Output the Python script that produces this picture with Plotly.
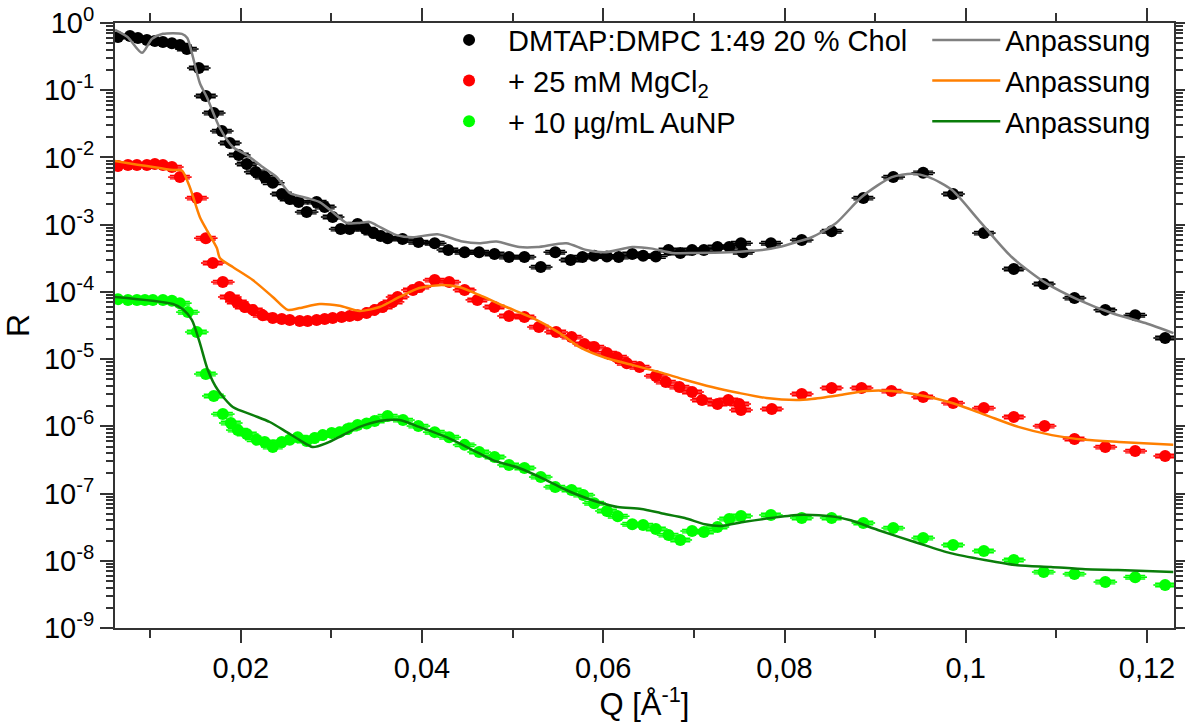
import plotly.graph_objects as go

# ---------------- data ----------------
q_black = [0.00645, 0.00777, 0.00865, 0.00964, 0.01052, 0.01141, 0.01240, 0.01328, 0.01405, 0.01537,
           0.01614, 0.01702, 0.01791, 0.01879, 0.01978, 0.02066, 0.02165, 0.02264, 0.02353, 0.02452,
           0.02540, 0.02639, 0.02727, 0.02837, 0.02926, 0.03014, 0.03102, 0.03201, 0.03289, 0.03377,
           0.03465, 0.03543, 0.03620, 0.03785, 0.0396, 0.0414, 0.0429, 0.0447, 0.0463, 0.0480,
           0.0496, 0.0513, 0.0531, 0.0547, 0.0564, 0.0577, 0.0590, 0.0604, 0.0617, 0.0632,
           0.0644, 0.0658, 0.0672, 0.0685, 0.0698, 0.0711, 0.0726, 0.0739, 0.0752, 0.0754,
           0.0785, 0.0819, 0.0852, 0.0887, 0.0920, 0.0953, 0.0986, 0.1020, 0.1053, 0.1086,
           0.1120, 0.1154, 0.1187, 0.1220]
r_black = [0.62, 0.64, 0.60, 0.56, 0.54, 0.52, 0.50, 0.47, 0.41, 0.214,
           0.082, 0.0458, 0.0247, 0.0164, 0.0109, 0.0080, 0.0061, 0.0051, 0.0042, 0.00286,
           0.00241, 0.00217, 0.00154, 0.00217, 0.00183, 0.0013, 0.00086, 0.00086, 0.00102, 0.00086,
           0.00075, 0.00068, 0.00063, 0.00061, 0.00055, 0.00053, 0.00042, 0.00039, 0.00039, 0.000366,
           0.00033, 0.00033, 0.000234, 0.00039, 0.000298, 0.00033, 0.000345, 0.000337, 0.00033, 0.000366,
           0.000345, 0.000337, 0.00042, 0.00038, 0.00042, 0.00042, 0.000465, 0.000465, 0.00053, 0.00039,
           0.00053, 0.00059, 0.00080, 0.00249, 0.0051, 0.0059, 0.00286, 0.00075, 0.000219, 0.000131,
           0.000081, 0.000054, 0.000045, 0.0000206]

q_fit_black = [0.00612, 0.0075, 0.00909, 0.0102, 0.0114, 0.0135, 0.0141, 0.0146, 0.01548, 0.01625,
               0.01769, 0.01912, 0.02066, 0.02242, 0.02397, 0.02540, 0.02727, 0.02871, 0.03014, 0.03168,
               0.03311, 0.03421, 0.0350, 0.03719, 0.03895, 0.04171, 0.04446, 0.04634, 0.04821, 0.05074,
               0.05273, 0.05592, 0.05813, 0.06033, 0.06320, 0.06540, 0.06760, 0.07025, 0.07388, 0.07752,
               0.07939, 0.0813, 0.0830, 0.08567, 0.08854, 0.09185, 0.09405, 0.09592, 0.09846, 0.10143,
               0.10507, 0.10882, 0.11245, 0.11609, 0.11983, 0.12292]
r_fit_black = [0.79, 0.62, 0.36, 0.58, 0.69, 0.69, 0.60, 0.36, 0.128, 0.079,
               0.0274, 0.0143, 0.0109, 0.0072, 0.0051, 0.00296, 0.0025, 0.00217, 0.00154, 0.00106,
               0.00106, 0.00110, 0.00098, 0.00070, 0.00065, 0.00072, 0.00056, 0.00053, 0.00056, 0.000465,
               0.000465, 0.00053, 0.00042, 0.00039, 0.000465, 0.00044, 0.00038, 0.00038, 0.00039, 0.00042,
               0.000465, 0.00055, 0.00065, 0.00105, 0.0026, 0.0051, 0.0057, 0.0051, 0.0033, 0.00117,
               0.00033, 0.000136, 0.000076, 0.0000485, 0.0000344, 0.0000244]

q_red = [0.00645, 0.00755, 0.00854, 0.00964, 0.01052, 0.01141, 0.01240, 0.01328, 0.01515, 0.01614,
         0.01691, 0.01802, 0.01879, 0.01956, 0.02044, 0.02132, 0.02242, 0.02353, 0.02452, 0.02540,
         0.02650, 0.02738, 0.02837, 0.02926, 0.03014, 0.03113, 0.03201, 0.03289, 0.03388, 0.03477,
         0.03565, 0.03675, 0.0373, 0.0390, 0.0397, 0.0414, 0.0430, 0.0447, 0.0461, 0.0480,
         0.0496, 0.0513, 0.0529, 0.0548, 0.0565, 0.0579, 0.0590, 0.0604, 0.0615, 0.0626,
         0.0640, 0.0658, 0.0669, 0.0684, 0.0698, 0.0709, 0.0726, 0.0738, 0.0750, 0.0752,
         0.0786, 0.0819, 0.0852, 0.0885, 0.0918, 0.0953, 0.0986, 0.1020, 0.1053, 0.1087,
         0.1120, 0.1154, 0.1187, 0.1220]
r_red = [7.46e-3, 7.72e-3, 7.72e-3, 7.72e-3, 7.98e-3, 7.72e-3, 7.2e-3, 5.1e-3, 2.49e-3, 6.3e-4,
         2.69e-4, 1.40e-4, 8.4e-5, 7.1e-5, 5.96e-5, 5.4e-5, 4.5e-5, 4.1e-5, 3.95e-5, 3.82e-5,
         3.69e-5, 3.69e-5, 3.82e-5, 3.95e-5, 4.1e-5, 4.23e-5, 4.38e-5, 4.5e-5, 4.85e-5, 5.4e-5,
         5.96e-5, 7.1e-5, 8.4e-5, 1.07e-4, 1.18e-4, 1.50e-4, 1.40e-4, 1.07e-4, 7.6e-5, 5.96e-5,
         4.38e-5, 4.23e-5, 3.0e-5, 2.53e-5, 2.13e-5, 1.68e-5, 1.51e-5, 1.23e-5, 1.07e-5, 8.7e-6,
         7.6e-6, 5.6e-6, 4.56e-6, 3.84e-6, 3.24e-6, 2.47e-6, 2.15e-6, 2.47e-6, 2.15e-6, 1.75e-6,
         1.81e-6, 3.03e-6, 3.72e-6, 3.72e-6, 3.35e-6, 2.73e-6, 2.22e-6, 1.87e-6, 1.38e-6, 1.01e-6,
         6.5e-7, 4.92e-7, 4.29e-7, 3.62e-7]

q_fit_red = [0.00612, 0.01251, 0.01350, 0.01438, 0.01548, 0.01625, 0.01736, 0.01769, 0.01912, 0.02132,
             0.02353, 0.02518, 0.02650, 0.02871, 0.03091, 0.03311, 0.03532, 0.03752, 0.0397, 0.0419,
             0.0441, 0.0463, 0.0493, 0.0522, 0.0552, 0.0574, 0.0603, 0.0632, 0.0662, 0.0691,
             0.0720, 0.0750, 0.0780, 0.0813, 0.0830, 0.0860, 0.0890, 0.0918, 0.0948, 0.0985,
             0.1022, 0.1058, 0.1095, 0.1132, 0.1169, 0.1229]
r_fit_red = [8.85e-3, 6.5e-3, 6.4e-3, 3.6e-3, 1.3e-3, 8.3e-4, 4.5e-4, 3.2e-4, 2.34e-4, 1.50e-4,
             8.4e-5, 5.4e-5, 5.75e-5, 6.6e-5, 6.2e-5, 5.2e-5, 5.96e-5, 8.4e-5, 1.14e-4, 1.26e-4,
             1.18e-4, 9.0e-5, 5.96e-5, 4.1e-5, 2.44e-5, 1.51e-5, 1.04e-5, 8.2e-6, 6.4e-6, 4.89e-6,
             3.84e-6, 3.13e-6, 2.64e-6, 2.47e-6, 2.55e-6, 2.9e-6, 3.35e-6, 3.35e-6, 2.92e-6, 2.22e-6,
             1.47e-6, 9.8e-7, 7.4e-7, 6.3e-7, 5.85e-7, 5.3e-7]

q_green = [0.00645, 0.00755, 0.00854, 0.00942, 0.01030, 0.01141, 0.01240, 0.01328, 0.01416, 0.01515,
           0.01614, 0.01702, 0.01802, 0.01890, 0.01967, 0.02066, 0.02176, 0.02264, 0.02353, 0.02452,
           0.02540, 0.02628, 0.02727, 0.02815, 0.02904, 0.03003, 0.03091, 0.03179, 0.03289, 0.03388,
           0.03477, 0.0362, 0.0379, 0.0396, 0.0414, 0.0430, 0.0447, 0.0463, 0.0480, 0.0496,
           0.0513, 0.0531, 0.0547, 0.0565, 0.0578, 0.0590, 0.0604, 0.0616, 0.0632, 0.0644,
           0.0658, 0.0672, 0.0685, 0.0698, 0.0711, 0.0726, 0.0739, 0.0752, 0.0785, 0.0819,
           0.0852, 0.0887, 0.0920, 0.0953, 0.0986, 0.1020, 0.1053, 0.1086, 0.1120, 0.1154,
           0.1187, 0.1220]
r_green = [7.8e-5, 7.6e-5, 7.6e-5, 7.6e-5, 7.6e-5, 7.6e-5, 7.4e-5, 6.8e-5, 5.0e-5, 2.53e-5,
           6.0e-6, 2.83e-6, 1.52e-6, 1.12e-6, 8.8e-7, 7.7e-7, 6.3e-7, 5.85e-7, 4.92e-7, 5.85e-7,
           6.3e-7, 6.9e-7, 6.05e-7, 6.7e-7, 7.4e-7, 7.95e-7, 8.2e-7, 9.1e-7, 1.05e-6, 1.1e-6,
           1.2e-6, 1.42e-6, 1.24e-6, 1.01e-6, 8.2e-7, 6.9e-7, 5.3e-7, 4.15e-7, 3.5e-7, 2.66e-7,
           2.4e-7, 1.76e-7, 1.25e-7, 1.13e-7, 9.5e-8, 7.2e-8, 5.5e-8, 4.6e-8, 3.5e-8, 3.4e-8,
           2.97e-8, 2.41e-8, 2.04e-8, 2.77e-8, 2.68e-8, 3.18e-8, 4.18e-8, 4.64e-8, 4.8e-8, 4.33e-8,
           4.33e-8, 3.65e-8, 3.07e-8, 2.18e-8, 1.72e-8, 1.40e-8, 1.03e-8, 6.8e-9, 6.35e-9, 4.83e-9,
           5.7e-9, 4.36e-9]

q_fit_green = [0.00612, 0.01251, 0.01361, 0.01460, 0.01548, 0.01636, 0.01747, 0.01912, 0.02132, 0.02320,
               0.02507, 0.02650, 0.02793, 0.02948, 0.03124, 0.03311, 0.03532, 0.03752, 0.0397, 0.0427,
               0.0456, 0.0478, 0.0507, 0.0537, 0.0559, 0.0581, 0.0594, 0.0616, 0.0642, 0.0664,
               0.0690, 0.0712, 0.0730, 0.0756, 0.0785, 0.0814, 0.0830, 0.0856, 0.0873, 0.0903,
               0.0947, 0.0983, 0.1021, 0.1057, 0.1094, 0.1132, 0.1168, 0.1229]
r_fit_green = [8.4e-5, 6.6e-5, 5.5e-5, 3.82e-5, 1.74e-5, 6.9e-6, 3.47e-6, 1.94e-6, 1.47e-6, 1.16e-6,
               8.2e-7, 6.25e-7, 4.92e-7, 5.65e-7, 7.4e-7, 9.8e-7, 1.2e-6, 1.24e-6, 9.8e-7, 6.9e-7,
               4.44e-7, 3.15e-7, 2.4e-7, 1.59e-7, 1.13e-7, 8.6e-8, 7.5e-8, 6.3e-8, 5.9e-8, 5.1e-8,
               4.33e-8, 3.5e-8, 3.3e-8, 3.8e-8, 4.33e-8, 4.8e-8, 4.8e-8, 4.5e-8, 4.0e-8, 2.87e-8,
               1.84e-8, 1.30e-8, 1.03e-8, 8.6e-9, 8.1e-9, 7.5e-9, 7.3e-9, 6.8e-9]

names_data = ["DMTAP:DMPC 1:49 20 % Chol", "+ 25 mM MgCl<sub>2</sub>", "+ 10 µg/mL AuNP"]
name_fit = "Anpassung"
y_tick_exps = [0, -1, -2, -3, -4, -5, -6, -7, -8, -9]

# ---------------- figure ----------------
FONT = "Liberation Sans, Arial, sans-serif"
TICK_SIZE = 29
LEG_SIZE = 29
fig = go.Figure()

series = [
    (q_black, r_black, "#000000", q_fit_black, r_fit_black, "#808080"),
    (q_red, r_red, "#FF0000", q_fit_red, r_fit_red, "#FF7F00"),
    (q_green, r_green, "#00FF00", q_fit_green, r_fit_green, "#0A7D0A"),
]

for i, (qd, rd, cd, qf, rf, cf) in enumerate(series):
    fig.add_trace(go.Scatter(
        x=qd, y=rd, mode="markers", name=names_data[i], legend="legend",
        marker=dict(color=cd, size=12, symbol="circle"),
        error_x=dict(type="constant", value=0.0013, color=cd, thickness=1.6, width=0),
        error_y=dict(type="percent", value=6, color=cd, thickness=1.4, width=10),
        cliponaxis=True,
    ))
for i, (qd, rd, cd, qf, rf, cf) in enumerate(series):
    fig.add_trace(go.Scatter(
        x=qf, y=rf, mode="lines", name=name_fit, legend="legend2",
        line=dict(color=cf, width=2.5, shape="spline", smoothing=0.7),
    ))

minor_vals = []
for e in range(-9, 0):
    for m in range(2, 10):
        minor_vals.append(m * 10 ** e)

fig.update_layout(
    width=1185, height=722,
    margin=dict(l=115, r=11, t=23, b=94, autoexpand=False),
    plot_bgcolor="white", paper_bgcolor="white",
    separators=", ",
    font=dict(family=FONT, size=TICK_SIZE, color="black"),
    showlegend=True,
    legend=dict(x=0.2975, y=1.014, xanchor="left", yanchor="top",
                bgcolor="rgba(0,0,0,0)", font=dict(family=FONT, size=LEG_SIZE, color="black"),
                itemwidth=68, tracegroupgap=0),
    legend2=dict(x=0.767, y=1.014, xanchor="left", yanchor="top",
                 bgcolor="rgba(0,0,0,0)", font=dict(family=FONT, size=LEG_SIZE, color="black"),
                 itemwidth=68, tracegroupgap=0),
    xaxis=dict(
        range=[0.00612, 0.12298], dtick=0.02, tick0=0,
        showline=True, linecolor="#333333", linewidth=2, mirror="allticks",
        ticks="outside", ticklen=13, tickwidth=1.8, tickcolor="#333333",
        showgrid=False, zeroline=False, automargin=False,
        tickfont=dict(family=FONT, size=TICK_SIZE, color="black"),
        minor=dict(dtick=0.01, tick0=0, ticks="outside", ticklen=8, tickwidth=1.8,
                   tickcolor="#333333", showgrid=False),
        title=dict(text="Q [Å<sup>-1</sup>]", font=dict(family=FONT, size=31, color="black"),
                   standoff=0),
    ),
    yaxis=dict(
        type="log", range=[-9, 0],
        tickmode="array",
        tickvals=[10 ** e for e in y_tick_exps],
        ticktext=["10<sup>%d</sup>" % e for e in y_tick_exps],
        showline=True, linecolor="#333333", linewidth=2, mirror="allticks",
        ticks="outside", ticklen=13, tickwidth=1.8, tickcolor="#333333",
        showgrid=False, zeroline=False, automargin=False,
        tickfont=dict(family=FONT, size=TICK_SIZE, color="black"),
        minor=dict(tickmode="array", tickvals=minor_vals, ticks="outside", ticklen=7,
                   tickwidth=1.5, tickcolor="#333333", showgrid=False),
        title=dict(text="R", font=dict(family=FONT, size=32, color="black"), standoff=6),
    ),
)

fig.write_html("out.html", config={"displayModeBar": False},
               post_script="document.body.style.margin='0px';")
